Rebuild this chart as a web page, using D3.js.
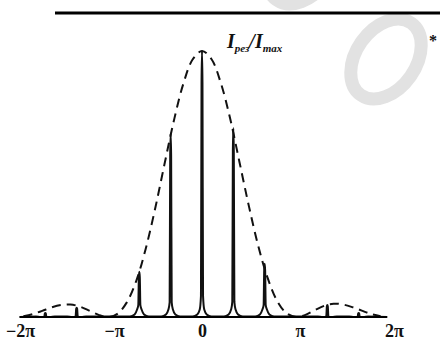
<!DOCTYPE html>
<html>
<head>
<meta charset="utf-8">
<script src="https://cdnjs.cloudflare.com/ajax/libs/d3/7.8.5/d3.min.js"></script>
<style>
  body { margin: 0; background: #fff; }
  svg { display: block; }
</style>
</head>
<body>
<div id="chart"></div>
<script>
// x values are in units of pi, intensities are I/Imax
var tickValues = [-2, -1, 0, 1, 2];
var tickLabels = ["\u22122\u03c0", "\u2212\u03c0", "0", "\u03c0", "2\u03c0"];
var axisExtent = [-1.94, 1.97];

// principal maxima of the grating (solid curve)
var peakX = [-5/3, -4/3, -2/3, -1/3, 0, 1/3, 2/3, 4/3, 5/3];
var peakI = [0.015, 0.035, 0.17, 0.69, 1.0, 0.71, 0.2, 0.045, 0.015];
var peakFlare = [0, 0, 0.028, 0.028, 0.028, 0.028, 0.028, 0, 0];

// single slit envelope (dashed curve)
var envX = [-1.9, -1.8, -1.7, -1.6, -1.5, -1.4, -1.3, -1.2, -1.1, -1.0,
            -0.9, -0.8, -0.7, -0.6, -0.5, -0.4, -0.3, -0.2, -0.1, 0,
            0.1, 0.2, 0.3, 0.4, 0.5, 0.6, 0.7, 0.8, 0.9, 1.0,
            1.1, 1.2, 1.3, 1.4, 1.5, 1.6, 1.7, 1.8, 1.9];
var envI = [0.003, 0.011, 0.023, 0.036, 0.045, 0.047, 0.039, 0.024, 0.008, 0,
            0.012, 0.055, 0.135, 0.255, 0.405, 0.573, 0.737, 0.875, 0.968, 1.0,
            0.97, 0.88, 0.745, 0.58, 0.415, 0.265, 0.145, 0.06, 0.014, 0,
            0.008, 0.026, 0.042, 0.05, 0.047, 0.037, 0.024, 0.011, 0.003];

var W = 440, H = 341;

var svg = d3.select("#chart")
  .append("svg")
  .attr("width", W)
  .attr("height", H);

// faint watermark rings from the scan
var rings = [
  { cx: 386, cy: 59 },
  { cx: 302, cy: -36 },
  { cx: 486, cy: 160 }
];
svg.selectAll("ellipse.wm")
  .data(rings)
  .enter()
  .append("ellipse")
  .attr("class", "wm")
  .attr("cx", 0).attr("cy", 0)
  .attr("rx", 30).attr("ry", 44)
  .attr("transform", d => "translate(" + d.cx + "," + d.cy + ") rotate(35)")
  .attr("fill", "none")
  .attr("stroke", "#e2e2e2")
  .attr("stroke-width", 13);

// page rule at the top
svg.append("line")
  .attr("x1", 55).attr("x2", W)
  .attr("y1", 13).attr("y2", 13)
  .attr("stroke", "#000")
  .attr("stroke-width", 3);

var x = d3.scaleLinear().domain([-2, 2]).range([14, 390]);
var y = d3.scaleLinear().domain([0, 1]).range([317, 51]);

// build solid curve through the principal maxima
var solid = [[axisExtent[0], 0]];
peakX.forEach(function(p, i) {
  var h = peakI[i], f = peakFlare[i];
  var pts = [
    [p - 0.1, 0.002],
    [p - 0.05, f * 0.35],
    [p - 0.024, f],
    [p - 0.011, Math.max(f * 1.6, h * 0.08)],
    [p - 0.005, h * 0.88],
    [p, h],
    [p + 0.005, h * 0.88],
    [p + 0.011, Math.max(f * 1.6, h * 0.08)],
    [p + 0.024, f],
    [p + 0.05, f * 0.35],
    [p + 0.1, 0.002]
  ];
  pts.forEach(d => solid.push(d));
});
solid.push([axisExtent[1], 0]);

var line = d3.line()
  .x(d => x(d[0]))
  .y(d => y(d[1]));

// dashed envelope
svg.append("path")
  .datum(envX.map((v, i) => [v, envI[i]]))
  .attr("d", line.curve(d3.curveCatmullRom))
  .attr("fill", "none")
  .attr("stroke", "#111")
  .attr("stroke-width", 2)
  .attr("stroke-dasharray", "9,6");

// solid grating curve
svg.append("path")
  .datum(solid)
  .attr("d", line.curve(d3.curveMonotoneX))
  .attr("fill", "none")
  .attr("stroke", "#111")
  .attr("stroke-width", 2)
  .attr("stroke-linejoin", "round");

// baseline
svg.append("line")
  .attr("x1", x(axisExtent[0])).attr("x2", x(axisExtent[1]))
  .attr("y1", y(0)).attr("y2", y(0))
  .attr("stroke", "#000")
  .attr("stroke-width", 2.2);

// tick labels
var xAxis = svg.append("g")
  .attr("transform", "translate(0," + y(0) + ")")
  .call(d3.axisBottom(x)
    .tickValues(tickValues)
    .tickSize(0)
    .tickPadding(7)
    .tickFormat((d, i) => tickLabels[i]));
xAxis.select(".domain").remove();
xAxis.selectAll("text")
  .attr("font-family", "'Liberation Serif', 'DejaVu Serif', serif")
  .attr("font-size", 18)
  .attr("font-weight", "bold")
  .attr("fill", "#111")
  .attr("dx", d => d < 0 ? 6 : (d > 0 ? 4 : 0));

// axis title  I_рез / I_max
var title = svg.append("text")
  .attr("x", 227)
  .attr("y", 48)
  .attr("font-family", "'Liberation Serif', 'DejaVu Serif', serif")
  .attr("font-style", "italic")
  .attr("font-weight", "bold")
  .attr("fill", "#111");
title.append("tspan").attr("font-size", 20).text("I");
title.append("tspan").attr("font-size", 11).attr("dy", 4).text("рез");
title.append("tspan").attr("font-size", 20).attr("dy", -4).text("/I");
title.append("tspan").attr("font-size", 11).attr("dy", 4).text("max");

// asterisk at the right margin
svg.append("text")
  .attr("x", 433)
  .attr("y", 46)
  .attr("text-anchor", "middle")
  .attr("font-family", "'Liberation Serif', serif")
  .attr("font-weight", "bold")
  .attr("font-size", 16)
  .attr("fill", "#111")
  .text("*");
</script>
</body>
</html>
